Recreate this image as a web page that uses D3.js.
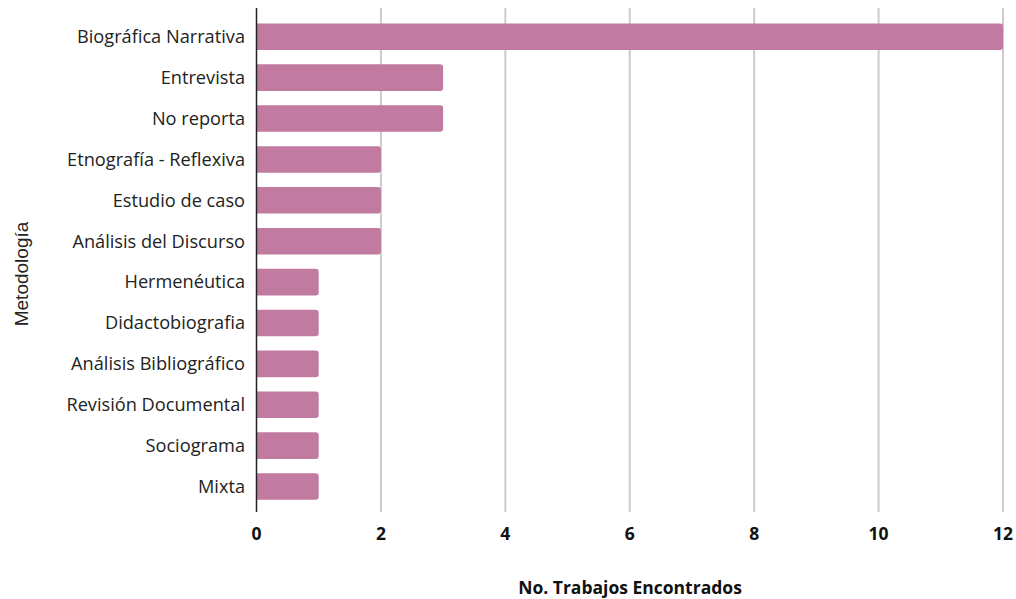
<!DOCTYPE html>
<html><head><meta charset="utf-8">
<script src="https://cdn.jsdelivr.net/npm/d3@7"></script>
<style>body{margin:0;background:#fff}svg{display:block}</style>
</head><body>
<svg id="c" width="1016" height="599"></svg>
<script>
const categories = ["Biográfica Narrativa","Entrevista","No reporta","Etnografía - Reflexiva","Estudio de caso","Análisis del Discurso","Hermenéutica","Didactobiografia","Análisis Bibliográfico","Revisión Documental","Sociograma","Mixta"];
const values = [12,3,3,2,2,2,1,1,1,1,1,1];
const xTicks = [0,2,4,6,8,10,12];
const xTitle = "No. Trabajos Encontrados";
const yTitle = "Metodología";

const svg = d3.select("#c");
const x = d3.scaleLinear().domain([0,12]).range([256.5,1003]);
const y = d3.scaleBand().domain(categories).range([16.3,507]).paddingInner(0.35).paddingOuter(0.175);

svg.append("g").selectAll("line").data(xTicks.filter(d=>d>0)).join("line")
  .attr("x1",d=>x(d)).attr("x2",d=>x(d)).attr("y1",8).attr("y2",512)
  .attr("stroke","#cccccc").attr("stroke-width",2);

const r = 3;
svg.append("g").selectAll("path").data(categories).join("path")
  .attr("fill","#c27ba0")
  .attr("d",(c,i)=>{
    const x0=x(0), x1=x(values[i]), y0=y(c), h=y.bandwidth();
    return `M${x0},${y0}H${x1-r}Q${x1},${y0} ${x1},${y0+r}V${y0+h-r}Q${x1},${y0+h} ${x1-r},${y0+h}H${x0}Z`;
  });

svg.append("line").attr("x1",256.5).attr("x2",256.5).attr("y1",8).attr("y2",512)
  .attr("stroke","#222").attr("stroke-width",1.5);

svg.append("g").selectAll("text").data(categories).join("text")
  .attr("x",245).attr("y",c=>y(c)+y.bandwidth()/2).attr("dy","0.35em")
  .attr("text-anchor","end").attr("font-family","'Open Sans', sans-serif")
  .attr("font-size",18.2).attr("fill","#222").text(c=>c);

svg.append("g").selectAll("text").data(xTicks).join("text")
  .attr("x",d=>x(d)).attr("y",540).attr("text-anchor","middle")
  .attr("font-family","'Open Sans', sans-serif").attr("font-weight","bold")
  .attr("font-size",17.5).attr("fill","#111").text(d=>d);

svg.append("text").attr("x",630).attr("y",594).attr("text-anchor","middle")
  .attr("font-family","'Open Sans', sans-serif").attr("font-weight","bold")
  .attr("font-size",17.5).attr("fill","#111").text(xTitle);

svg.append("text").attr("transform","translate(28,274) rotate(-90)").attr("text-anchor","middle")
  .attr("font-family","'Liberation Sans', Arial, sans-serif")
  .attr("font-size",19).attr("fill","#222").text(yTitle);
</script>
</body></html>
